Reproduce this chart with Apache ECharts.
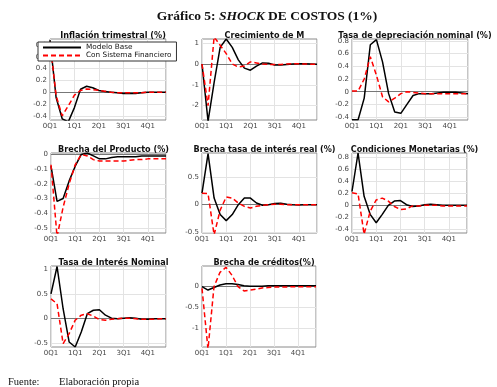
<!DOCTYPE html>
<html><head><meta charset="utf-8">
<script src="https://cdn.jsdelivr.net/npm/echarts@6/dist/echarts.min.js"></script>
<style>html,body{margin:0;padding:0;background:#fff}#c{width:497px;height:387px}</style>
</head><body><div id="c"></div>
<script>
const quarters = [0,1,2,3,4,5,6,7,8,9,10,11,12,13,14,15,16,17,18,19];
const xTicks = ['0Q1','1Q1','2Q1','3Q1','4Q1'];
const seriesNames = ['Modelo Base','Con Sistema Financiero'];

const inflBase = [0.88,-0.09,-0.45,-0.5,-0.26,0.05,0.1,0.075,0.03,0.01,0.0,-0.01,-0.02,-0.02,-0.02,-0.01,0.0,0.0,0.0,0.0];
const inflFin  = [0.85,-0.06,-0.4,-0.23,-0.05,0.03,0.055,0.045,0.03,0.015,0.0,-0.01,-0.01,-0.01,-0.01,-0.01,0.0,0.0,0.0,0.0];

const crecBase = [0.0,-2.75,-0.9,0.8,1.2,0.8,0.2,-0.2,-0.3,-0.1,0.05,0.04,-0.05,-0.05,-0.02,0.0,0.01,0.01,0.0,-0.01];
const crecFin  = [0.0,-2.0,1.3,0.9,0.5,0.0,-0.15,-0.1,0.1,0.05,0.0,-0.02,-0.03,-0.03,0.0,0.01,0.01,0.0,-0.01,-0.01];

const depBase = [-0.44,-0.44,-0.1,0.74,0.82,0.47,-0.03,-0.32,-0.34,-0.2,-0.06,-0.03,-0.03,-0.03,-0.02,-0.01,-0.01,-0.01,-0.02,-0.03];
const depFin  = [0.01,0.01,0.2,0.55,0.26,-0.08,-0.16,-0.1,-0.03,0.0,-0.01,-0.02,-0.03,-0.03,-0.03,-0.03,-0.03,-0.03,-0.03,-0.03];

const prodBase = [-0.08,-0.32,-0.3,-0.18,-0.08,0.0,0.01,-0.01,-0.03,-0.03,-0.02,-0.015,-0.015,-0.015,-0.015,-0.01,-0.01,-0.01,-0.01,-0.01];
const prodFin  = [-0.07,-0.56,-0.36,-0.2,-0.07,0.0,-0.01,-0.035,-0.045,-0.045,-0.045,-0.045,-0.045,-0.04,-0.035,-0.035,-0.03,-0.03,-0.03,-0.03];

const realBase = [0.21,0.93,0.12,-0.18,-0.29,-0.18,0.0,0.12,0.12,0.03,-0.01,0.0,0.02,0.025,0.01,0.0,-0.005,0.0,0.0,0.0];
const realFin  = [0.21,0.2,-0.55,-0.1,0.14,0.12,0.03,-0.03,-0.06,-0.03,-0.01,0.0,0.01,0.01,0.0,0.0,0.0,0.0,0.0,0.0];

const condBase = [0.23,0.87,0.15,-0.15,-0.29,-0.15,0.0,0.07,0.08,0.01,-0.02,-0.01,0.01,0.02,0.01,0.0,0.0,0.0,0.0,0.0];
const condFin  = [0.21,0.19,-0.48,-0.1,0.09,0.12,0.07,-0.02,-0.07,-0.06,-0.01,-0.01,0.0,0.0,0.0,-0.01,-0.01,-0.01,-0.01,-0.01];

const nomBase = [0.5,1.05,0.2,-0.47,-0.57,-0.27,0.1,0.17,0.18,0.07,0.01,0.0,0.01,0.02,0.01,-0.01,-0.01,0.0,0.0,0.0];
const nomFin  = [0.4,0.3,-0.5,-0.3,-0.03,0.07,0.1,0.05,-0.02,-0.03,-0.01,0.0,0.01,0.01,0.0,-0.01,-0.01,-0.01,0.0,0.0];

const credBase = [-0.02,-0.1,-0.04,0.02,0.05,0.05,0.03,0.0,-0.01,-0.01,-0.01,0.0,0.0,0.0,0.0,0.0,0.0,0.0,0.0,0.0];
const credFin  = [-0.06,-1.5,-0.02,0.32,0.44,0.25,-0.02,-0.12,-0.1,-0.08,-0.05,-0.04,-0.03,-0.03,-0.03,-0.02,-0.02,-0.02,-0.02,-0.02];

const panels = [
  {title:'Inflación trimestral (%)', base:inflBase, fin:inflFin, min:-0.47, max:0.9, ticks:[-0.4,-0.2,0,0.2,0.4,0.6,0.8], g:[50,39,116,81]},
  {title:'Crecimiento de M', base:crecBase, fin:crecFin, min:-2.69, max:1.2, ticks:[-2,-1,0,1], g:[202,39,115,81]},
  {title:'Tasa de depreciación nominal (%)', base:depBase, fin:depFin, min:-0.445, max:0.83, ticks:[-0.4,-0.2,0,0.2,0.4,0.6,0.8], g:[352,39,116,81]},
  {title:'Brecha del Producto (%)', base:prodBase, fin:prodFin, min:-0.535, max:0.01, ticks:[-0.5,-0.4,-0.3,-0.2,-0.1,0], g:[51,153,115,80]},
  {title:'Brecha tasa de interés real (%)', base:realBase, fin:realFin, min:-0.515, max:0.94, ticks:[-0.5,0,0.5], g:[202,153,115,80]},
  {title:'Condiciones Monetarias (%)', base:condBase, fin:condFin, min:-0.46, max:0.87, ticks:[-0.4,-0.2,0,0.2,0.4,0.6,0.8], g:[352,153,115,80]},
  {title:'Tasa de Interés Nominal', base:nomBase, fin:nomFin, min:-0.57, max:1.06, ticks:[-0.5,0,0.5,1], g:[51,266,115,81]},
  {title:'Brecha de créditos(%)', base:credBase, fin:credFin, min:-1.45, max:0.47, ticks:[-1,-0.5,0], g:[202,266,114,81]}
];

const FONT = 'DejaVu Sans';
const grid=[], xAxis=[], yAxis=[], series=[], titles=[];
titles.push({
  text:'{a|Gráfico 5: }{b|SHOCK}{a| DE COSTOS (1%)}', left:262, top:5, textAlign:'center',
  textStyle:{rich:{a:{fontFamily:'Liberation Serif',fontWeight:'bold',fontSize:13.5,color:'#111'},b:{fontFamily:'Liberation Serif',fontWeight:'bold',fontStyle:'italic',fontSize:13.5,color:'#111'}}}
});
titles.push({
  text:'{a|Fuente:}{b|Elaboración propia}', left:3, top:372,
  textStyle:{fontWeight:'normal',rich:{a:{fontFamily:'Liberation Serif',fontWeight:'normal',fontSize:10.5,color:'#111',width:51},b:{fontFamily:'Liberation Serif',fontWeight:'normal',fontSize:10.5,color:'#111'}}}
});
panels.forEach((p,i)=>{
  const [l,t,w,h]=p.g;
  grid.push({left:l,top:t,width:w,height:h,show:true,borderColor:'#8a8a8a',borderWidth:1,backgroundColor:'#fff',containLabel:false});
  titles.push({text:p.title,left:l+w/2,top:t-12,textAlign:'center',textStyle:{fontFamily:FONT,fontWeight:'bold',fontSize:8.1,color:'#111'}});
  xAxis.push({type:'value',gridIndex:i,min:0,max:quarters[quarters.length-1],interval:4,
    axisLine:{show:false},axisTick:{show:false},
    splitLine:{show:true,lineStyle:{color:'#e3e3e3',width:1}},
    axisLabel:{fontFamily:FONT,fontSize:7,color:'#444',margin:3,formatter:v=>xTicks[v/4]||''}});
  yAxis.push({type:'value',gridIndex:i,min:p.min,max:p.max,
    axisLine:{show:false},axisTick:{show:false,customValues:p.ticks},
    splitLine:{show:true,lineStyle:{color:'#e3e3e3',width:1}},
    axisLabel:{fontFamily:FONT,fontSize:7,color:'#444',margin:3,customValues:p.ticks,formatter:v=>String(+v.toFixed(2))}});
  series.push({name:seriesNames[0],type:'line',xAxisIndex:i,yAxisIndex:i,symbol:'none',
    data:quarters.map((q,k)=>[q,p.base[k]]),lineStyle:{color:'#000',width:1.5},itemStyle:{color:'#000'},z:3,
    markLine:{silent:true,symbol:'none',label:{show:false},lineStyle:{color:'#777',width:1,type:'solid'},data:[{yAxis:0}],z:2}});
  series.push({name:seriesNames[1],type:'line',xAxisIndex:i,yAxisIndex:i,symbol:'none',
    data:quarters.map((q,k)=>[q,p.fin[k]]),lineStyle:{color:'#ff0000',width:1.5,type:[5,3]},itemStyle:{color:'#ff0000'},z:4});
});

const chart = echarts.init(document.getElementById('c'),null,{renderer:'canvas'});
chart.setOption({
  animation:false,
  backgroundColor:'#fff',
  title:titles,
  legend:{data:seriesNames,orient:'vertical',left:38,top:42,itemWidth:38,itemHeight:8,itemGap:1,
    padding:[2,5,2,4],backgroundColor:'#fff',borderColor:'#333',borderWidth:1,
    itemStyle:{opacity:0},
    textStyle:{fontFamily:FONT,fontSize:7.3,color:'#111'},z:10},
  grid, xAxis, yAxis, series
});
</script></body></html>
